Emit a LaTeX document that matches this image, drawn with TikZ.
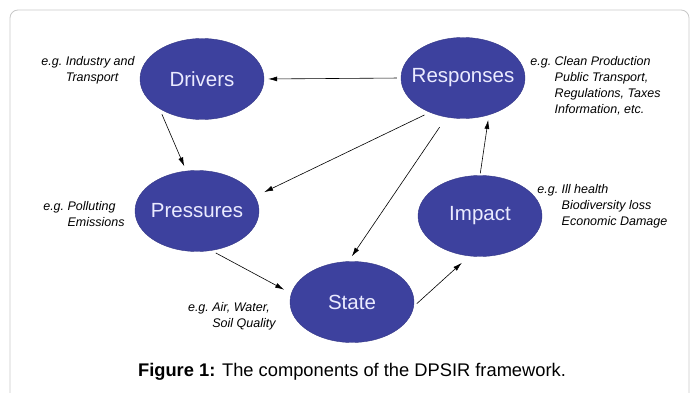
\documentclass[tikz,border=0pt]{standalone}
\usepackage{fontspec}
\setmainfont{Liberation Sans}
\usepackage{tikz}
\usetikzlibrary{shapes.geometric, arrows, arrows.meta, calc, positioning}
\definecolor{dpsirblue}{RGB}{61,65,158}
\definecolor{framegray}{RGB}{200,200,200}
\tikzstyle{component} = [ellipse, fill=dpsirblue, draw=dpsirblue!85!black, minimum width=124pt, minimum height=81pt, inner xsep=-16pt, inner ysep=0pt, text=white!92!blue, font=\fontsize{20.5}{24}\selectfont]
\tikzstyle{example} = [inner sep=0pt, font=\fontsize{12.5}{16}\selectfont\itshape]
\tikzstyle{arrow} = [line width=0.6pt, -{Latex[length=9pt,width=5pt]}]

\begin{document}
\begin{tikzpicture}[x=1pt, y=-1pt, node distance = 6pt]
		\useasboundingbox (0,0) rectangle (690,393);
		\draw [framegray, line width=0.8pt, rounded corners=8pt] (10,10) rectangle (689,430);
		% the five components
		\node (Drivers) [component] at (202,79) {Drivers};
		\node (Responses) [component] at (463,78) {Responses};
		\node (Pressures) [component] at (197,211) {Pressures};
		\node (Impact) [component] at (480,216) {Impact};
		\node (State) [component] at (352,302) {State};
		% examples
		\node (DriversEg) [example, left = 5pt of Drivers, yshift=9pt] {\begin{tabular}{@{}l@{\ }l@{}}e.g. & Industry and\\ & Transport\end{tabular}};
		\node (ResponsesEg) [example, right = 5pt of Responses, yshift=-8pt] {\begin{tabular}{@{}l@{\ }l@{}}e.g. & Clean Production\\ & Public Transport,\\ & Regulations, Taxes\\ & Information, etc.\end{tabular}};
		\node (PressuresEg) [example, left = 10pt of Pressures, yshift=-4pt] {\begin{tabular}{@{}l@{\ }l@{}}e.g. & Polluting\\ & Emissions\end{tabular}};
		\node (ImpactEg) [example, right = -5pt of Impact, yshift=10pt] {\begin{tabular}{@{}l@{\ }l@{}}e.g. & Ill health\\ & Biodiversity loss\\ & Economic Damage\end{tabular}};
		\node (StateEg) [example, left = 14pt of State, yshift=-14pt] {\begin{tabular}{@{}l@{\ }l@{}}e.g. & Air, Water,\\ & Soil Quality\end{tabular}};
		\node (Caption) at (352,372) [font=\fontsize{18.3}{22}\selectfont] {\textbf{Figure 1:} The components of the DPSIR framework.};
		% links
		\draw [arrow, shorten <=4pt, shorten >=4pt] (Responses.west) -- (Drivers.east);
		\draw [arrow, shorten <=6pt, shorten >=5pt] (Drivers.215) -- (Pressures.105);
		\draw [arrow, shorten <=6pt, shorten >=10pt] (Responses.226) -- (Pressures.14);
		\draw [arrow, shorten <=12pt, shorten >=6pt] (Responses.247) -- (State.95);
		\draw [arrow, shorten <=5pt, shorten >=8pt] (Pressures.290) -- (State.172);
		\draw [arrow, shorten <=4pt, shorten >=10pt] (State.356) -- (Impact.255);
		\draw [arrow, shorten <=2pt, shorten >=5pt] (Impact.north) -- (Responses.305);
\end{tikzpicture}
\end{document}
